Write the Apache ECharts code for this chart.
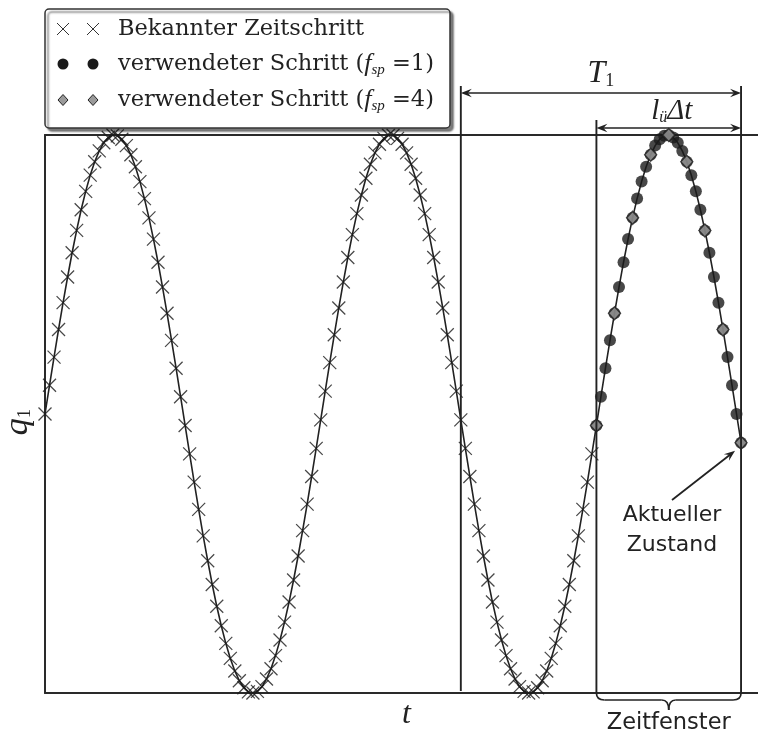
<!DOCTYPE html>
<html>
<head>
<meta charset="utf-8">
<script src="https://cdn.jsdelivr.net/npm/echarts@6/dist/echarts.min.js"></script>
<style>
html,body{margin:0;padding:0;background:#fff}
#c{width:758px;height:736px}
</style>
</head>
<body>
<div id="c"></div>
<script>
// Generalized coordinate q1 at every known time step (step index = position in array)
const q1 = [
  0.000, 0.103, 0.204, 0.303, 0.399, 0.491, 0.578, 0.658, 0.732, 0.798,
  0.856, 0.904, 0.943, 0.972, 0.991, 1.000, 0.997, 0.985, 0.962, 0.929,
  0.886, 0.833, 0.772, 0.703, 0.627, 0.544, 0.455, 0.361, 0.264, 0.164,
  0.062, -0.041, -0.143, -0.244, -0.342, -0.437, -0.526, -0.611, -0.689, -0.759,
  -0.822, -0.876, -0.921, -0.956, -0.981, -0.996, -1.000, -0.994, -0.977, -0.950,
  -0.913, -0.866, -0.810, -0.746, -0.674, -0.595, -0.509, -0.418, -0.323, -0.224,
  -0.123, -0.021, 0.082, 0.184, 0.284, 0.380, 0.473, 0.561, 0.643, 0.718,
  0.785, 0.845, 0.895, 0.936, 0.967, 0.988, 0.999, 0.999, 0.988, 0.967,
  0.936, 0.895, 0.845, 0.785, 0.718, 0.643, 0.561, 0.473, 0.380, 0.284,
  0.184, 0.082, -0.021, -0.123, -0.224, -0.323, -0.418, -0.509, -0.595, -0.674,
  -0.746, -0.810, -0.866, -0.913, -0.950, -0.977, -0.994, -1.000, -0.996, -0.981,
  -0.956, -0.921, -0.876, -0.822, -0.759, -0.689, -0.611, -0.526, -0.437, -0.342,
  -0.244, -0.143, -0.041, 0.062, 0.164, 0.264, 0.361, 0.455, 0.544, 0.627,
  0.703, 0.772, 0.833, 0.886, 0.929, 0.962, 0.985, 0.997, 1.000, 0.991,
  0.972, 0.943, 0.904, 0.856, 0.798, 0.732, 0.658, 0.578, 0.491, 0.399,
  0.303, 0.204, 0.103, 0.000, -0.103
];
const periodStart = 92;   // step where the period T1 begins
const windowStart = 122;  // first step of the time window
const windowEnd = 154;    // current state
const fsp = 4;            // sparse factor
const tMax = 157.75;      // right end of the time axis
const legendLabels = [
  'Bekannter Zeitschritt',
  '{a|verwendeter Schritt (}{m|f}{s|sp}{a| =1)}',
  '{a|verwendeter Schritt (}{m|f}{s|sp}{a| =4)}'
];

const INK = '#222';
const SERIF = '"DejaVu Serif", serif';
const MATH = '"Liberation Serif", "DejaVu Serif", serif';
const SANS = '"DejaVu Sans", sans-serif';

const curve = q1.map((v, k) => [k, v]);
const known = curve.slice(0, windowStart);
const used = curve.slice(windowStart, windowEnd + 1);
const sparse = used.filter(p => (p[0] - windowStart) % fsp === 0);

const chart = echarts.init(document.getElementById('c'), null, {renderer: 'canvas'});

const frameLine = {show: true, onZero: false, lineStyle: {color: '#2a2a2a', width: 2}};
const noDecor = {axisTick: {show: false}, axisLabel: {show: false}, splitLine: {show: false}};

chart.setOption({
  animation: false,
  grid: {left: 45, right: 0, top: 135, bottom: 43, outerBoundsMode: 'none', containLabel: false},
  xAxis: [
    Object.assign({
      type: 'value', min: 0, max: tMax, position: 'bottom', axisLine: frameLine,
      name: 't', nameLocation: 'middle', nameGap: 6,
      nameTextStyle: {fontFamily: MATH, fontStyle: 'italic', fontSize: 32, color: INK, padding: [0, 0, 0, 10]}
    }, noDecor),
    Object.assign({type: 'value', min: 0, max: tMax, position: 'top', axisLine: frameLine}, noDecor)
  ],
  yAxis: Object.assign({
    type: 'value', min: -1, max: 1, axisLine: frameLine,
    name: '{v|q}{s|1}{p|}', nameLocation: 'middle', nameRotate: 90, nameGap: 10,
    nameTextStyle: {
      color: INK,
      rich: {
        v: {fontFamily: MATH, fontStyle: 'italic', fontSize: 34, lineHeight: 34, color: INK},
        s: {fontFamily: MATH, fontSize: 19, lineHeight: 19, verticalAlign: 'bottom', color: INK},
        p: {width: 16, lineHeight: 19}
      }
    }
  }, noDecor),
  series: [
    {
      type: 'line', data: curve, showSymbol: false, symbol: 'none', z: 2,
      lineStyle: {color: INK, width: 1.6}, silent: true
    },
    {
      type: 'scatter', data: known, z: 3,
      symbol: 'path://M0,0L10,10M10,0L0,10', symbolSize: 13, symbolKeepAspect: true,
      itemStyle: {color: 'rgba(0,0,0,0)', borderColor: '#1a1a1a', borderWidth: 1.25}
    },
    {
      type: 'scatter', data: used, z: 4, symbol: 'circle', symbolSize: 12,
      itemStyle: {color: '#1a1a1a'}
    },
    {
      type: 'scatter', data: sparse, z: 5, symbol: 'diamond', symbolSize: [12, 13],
      itemStyle: {color: '#9a9a9a', borderColor: '#222', borderWidth: 1.4}
    }
  ]
});

// ---- annotations positioned from the axes ----
const px = k => chart.convertToPixel({xAxisIndex: 0}, k);
const py = v => chart.convertToPixel({yAxisIndex: 0}, v);
const xT = px(periodStart), xW = px(windowStart), xE = px(windowEnd);
const yBot = py(-1);
const yEnd = py(q1[windowEnd]);

function seg(x1, y1, x2, y2, w) {
  return {type: 'line', shape: {x1, y1, x2, y2}, style: {stroke: INK, lineWidth: w || 1.9}, z: 10};
}
function curveSeg(x1, y1, cx, cy, x2, y2) {
  return {type: 'bezierCurve', shape: {x1, y1, cpx1: cx, cpy1: cy, x2, y2},
          style: {stroke: INK, lineWidth: 1.7, fill: null}, z: 10};
}
function head(x, y, ang) {
  // arrow tip at (x,y) pointing along angle ang
  const L = 11, W = 4.2, N = 7;
  const c = Math.cos(ang), s = Math.sin(ang);
  const p = (a, b) => [x + a * c - b * s, y + a * s + b * c];
  return {type: 'polygon', shape: {points: [p(0, 0), p(-L, -W), p(-N, 0), p(-L, W)]},
          style: {fill: INK}, z: 11};
}
function dimArrow(x1, x2, y) {
  return [seg(x1 + 3, y, x2 - 3, y, 1.7), head(x1, y, Math.PI), head(x2, y, 0)];
}

const g = [];
// legend box
g.push({type: 'rect', shape: {x: 45, y: 9, width: 405, height: 119, r: 4}, z: 20,
  style: {fill: '#fff', stroke: '#333', lineWidth: 1.5, shadowBlur: 2,
          shadowOffsetX: 3, shadowOffsetY: 3, shadowColor: 'rgba(0,0,0,0.5)'}});
const rowsY = [29, 64, 100];
[63, 93].forEach(cx => {
  const y0 = rowsY[0];
  g.push({type: 'line', shape: {x1: cx - 6, y1: y0 - 6, x2: cx + 6, y2: y0 + 6}, style: {stroke: '#333', lineWidth: 1}, z: 21});
  g.push({type: 'line', shape: {x1: cx + 6, y1: y0 - 6, x2: cx - 6, y2: y0 + 6}, style: {stroke: '#333', lineWidth: 1}, z: 21});
  g.push({type: 'circle', shape: {cx, cy: rowsY[1], r: 5.5}, style: {fill: '#1a1a1a'}, z: 21});
  const y2 = rowsY[2];
  g.push({type: 'polygon', shape: {points: [[cx, y2 - 5.5], [cx + 5, y2], [cx, y2 + 5.5], [cx - 5, y2]]},
          style: {fill: '#9a9a9a', stroke: '#222', lineWidth: 1}, z: 21});
});
const legendRich = {
  a: {fontFamily: SERIF, fontSize: 22.5, lineHeight: 28, color: INK},
  m: {fontFamily: MATH, fontStyle: 'italic', fontSize: 26, lineHeight: 28, color: INK},
  s: {fontFamily: MATH, fontStyle: 'italic', fontSize: 15, lineHeight: 15, verticalAlign: 'bottom', color: INK}
};
legendLabels.forEach((t, i) => {
  g.push({type: 'text', z: 21, style: {
    text: t, x: 118, y: rowsY[i], verticalAlign: 'middle', align: 'left',
    fontFamily: SERIF, fontSize: 22.5, fill: INK, rich: legendRich}});
});

// T1 dimension
g.push(seg(xT, 86, xT, yBot - 2));
g.push(seg(xE, 86, xE, yBot));
g.push(...dimArrow(xT, xE, 93));
g.push({type: 'text', z: 12, style: {
  text: '{m|T}{s|1}', x: (xT + xE) / 2, y: 90, align: 'center', verticalAlign: 'bottom',
  rich: {
    m: {fontFamily: MATH, fontStyle: 'italic', fontSize: 32, lineHeight: 32, fill: INK},
    s: {fontFamily: MATH, fontSize: 18, lineHeight: 18, verticalAlign: 'bottom', fill: INK}
  }}});

// window length dimension
g.push(seg(xW, 120, xW, yBot));
g.push(...dimArrow(xW, xE, 128));
g.push({type: 'text', z: 12, style: {
  text: '{m|l}{s|ü}{m|Δt}', x: (xW + xE) / 2 + 3, y: 126, align: 'center', verticalAlign: 'bottom',
  rich: {
    m: {fontFamily: MATH, fontStyle: 'italic', fontSize: 29, lineHeight: 29, fill: INK},
    s: {fontFamily: MATH, fontStyle: 'italic', fontSize: 16, lineHeight: 16, verticalAlign: 'bottom', fill: INK}
  }}});

// brace under the time window
const xm = (xW + xE) / 2, yb = yBot + 7, yt = yBot + 17;
g.push(curveSeg(xW, yBot, xW, yb, xW + 8, yb));
g.push(seg(xW + 8, yb, xm - 7, yb, 1.7));
g.push(curveSeg(xm - 7, yb, xm, yb, xm, yt));
g.push(curveSeg(xm, yt, xm, yb, xm + 7, yb));
g.push(seg(xm + 7, yb, xE - 8, yb, 1.7));
g.push(curveSeg(xE - 8, yb, xE, yb, xE, yBot));
g.push({type: 'text', z: 12, style: {
  text: 'Zeitfenster', x: xm, y: 723, align: 'center', verticalAlign: 'middle',
  fontFamily: SANS, fontSize: 22.5, fill: INK}});

// current state callout
const tipX = xE - 6, tipY = yEnd + 8;
const tailX = 672, tailY = 500;
const ang = Math.atan2(tipY - tailY, tipX - tailX);
g.push(seg(tailX, tailY, tipX - 6 * Math.cos(ang), tipY - 6 * Math.sin(ang), 1.8));
g.push(head(tipX, tipY, ang));
g.push({type: 'text', z: 12, style: {
  text: 'Aktueller\nZustand', x: 672, y: 530, align: 'center', verticalAlign: 'middle',
  fontFamily: SANS, fontSize: 22, lineHeight: 30, fill: INK}});

chart.setOption({graphic: g});
</script>
</body>
</html>
